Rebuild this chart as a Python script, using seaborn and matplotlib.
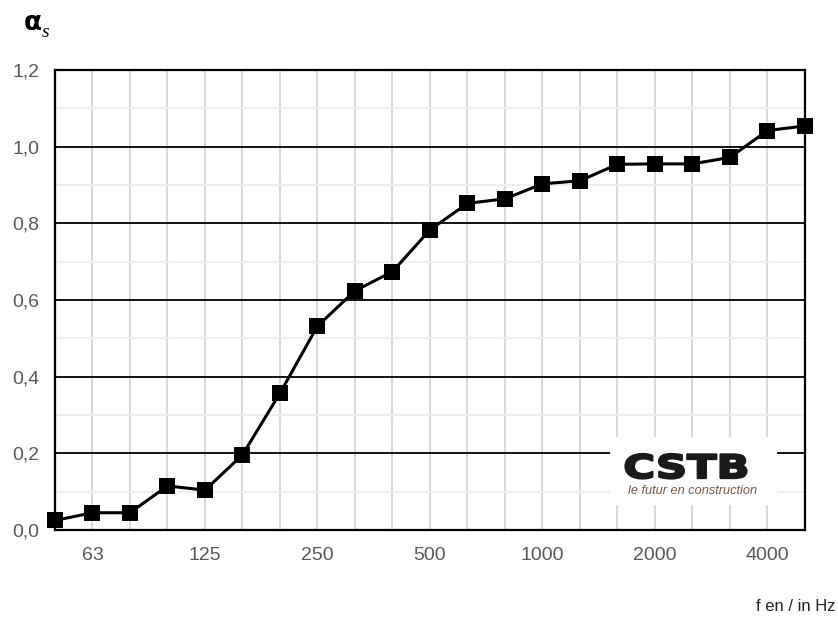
import matplotlib
matplotlib.use("Agg")
import matplotlib.pyplot as plt
from matplotlib.patches import Rectangle, PathPatch
from matplotlib.textpath import TextPath
from matplotlib.font_manager import FontProperties
from matplotlib.transforms import Affine2D
import seaborn as sns
import numpy as np
import pandas as pd

bands = ["50", "63", "80", "100", "125", "160", "200", "250", "315", "400", "500",
         "630", "800", "1000", "1250", "1600", "2000", "2500", "3150", "4000", "5000"]
alpha_s = [0.025, 0.045, 0.045, 0.115, 0.104, 0.196, 0.357, 0.532, 0.624, 0.674, 0.783,
           0.852, 0.864, 0.903, 0.911, 0.954, 0.955, 0.955, 0.972, 1.042, 1.054]
shown_ticks = ["63", "125", "250", "500", "1000", "2000", "4000"]
y_ticks = [0.0, 0.2, 0.4, 0.6, 0.8, 1.0, 1.2]
y_labels = ["0,0", "0,2", "0,4", "0,6", "0,8", "1,0", "1,2"]

sns.set_style("white")
plt.rcParams['font.family'] = ['Liberation Sans', 'DejaVu Sans']

df = pd.DataFrame({"pos": np.arange(len(bands)), "band": bands, "alpha": alpha_s})

fig = plt.figure(figsize=(8.38, 6.22), dpi=100)
ax = fig.add_axes([0.0656, 0.1479, 0.895, 0.7396])

# grid
for i in range(1, len(bands) - 1):
    ax.axvline(i, color="#d9d9d9", lw=1.5, zorder=0)
for v in [0.1, 0.3, 0.5, 0.7, 0.9, 1.1]:
    ax.axhline(v, color="#efefef", lw=1.5, zorder=0)
for v in [0.2, 0.4, 0.6, 0.8, 1.0]:
    ax.axhline(v, color="black", lw=1.3, zorder=0.5)

sns.lineplot(data=df, x="pos", y="alpha", ax=ax, color="black", lw=2.2,
             marker="s", markersize=12, markeredgewidth=0, zorder=5, clip_on=False)

ax.set_xlim(0, len(bands) - 1)
ax.set_ylim(0, 1.2)
ax.set_xticks([bands.index(t) for t in shown_ticks])
ax.set_xticklabels(shown_ticks)
ax.set_yticks(y_ticks)
ax.set_yticklabels(y_labels)
ax.tick_params(axis="both", length=0, labelsize=14, labelcolor="#595959")
ax.tick_params(axis="x", pad=12)
ax.tick_params(axis="y", pad=11)
ax.set_xlabel("")
ax.set_ylabel("")
for s in ax.spines.values():
    s.set_color("black")
    s.set_linewidth(1.6)
    s.set_visible(True)

# logo
ax.add_patch(Rectangle((0.740, 0.054), 0.223, 0.148, transform=ax.transAxes,
                       facecolor="white", edgecolor="none", zorder=4))
tp = TextPath((0, 0), "CSTB", size=1,
              prop=FontProperties(family="DejaVu Sans", weight="bold"))
bb = tp.get_extents()
L, B, W, H = 6.255, 1.435, 1.21, 0.245
tr = (Affine2D().translate(-bb.x0, -bb.y0)
      .scale(W / bb.width, H / bb.height).translate(L, B) + fig.dpi_scale_trans)
logo = PathPatch(tp, facecolor="#1a1a1a", edgecolor="#1a1a1a", linewidth=1.6,
                 joinstyle="round", transform=tr, zorder=6)
logo.set_clip_on(False)
fig.add_artist(logo)
ax.text(0.8507, 0.085, "le futur en construction", transform=ax.transAxes,
        ha="center", va="center", fontsize=9.2, style="italic",
        color="#7a5844", zorder=7)

fig.text(0.028, 0.951, "α", fontsize=19, fontweight="bold", color="black",
         ha="left", va="baseline", family="DejaVu Sans")
fig.text(0.050, 0.941, "s", fontsize=14, style="italic", color="black",
         ha="left", va="baseline", family="Liberation Serif")
fig.text(0.997, 0.018, "f en / in Hz", fontsize=12, color="#222222", ha="right",
         va="baseline")

fig.savefig("out.png", dpi=100)
